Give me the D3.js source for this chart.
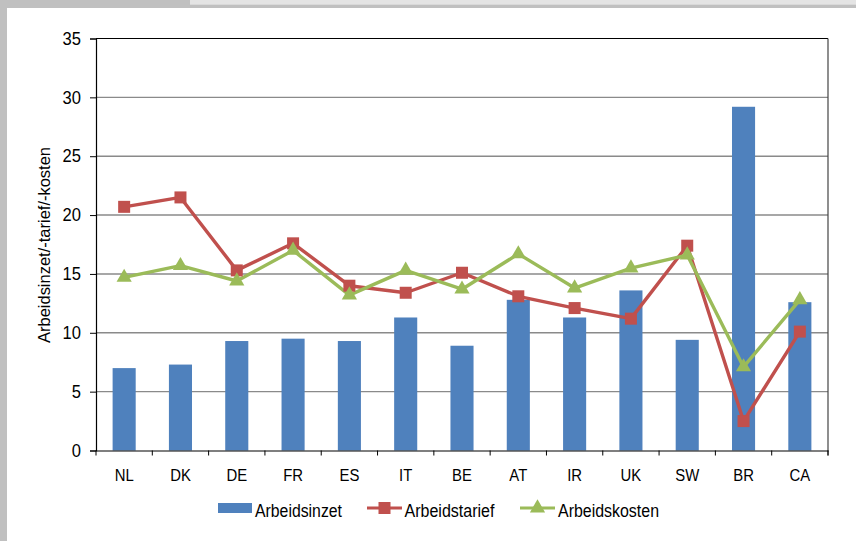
<!DOCTYPE html>
<html>
<head>
<meta charset="utf-8">
<script src="https://cdn.jsdelivr.net/npm/d3@7"></script>
<style>
  html, body { margin: 0; padding: 0; background: #fff; }
  svg { display: block; }
  text { font-family: "Liberation Sans", Arial, sans-serif; fill: #000; }
</style>
</head>
<body>
<svg id="chart" width="856" height="541"></svg>
<script>
// Countries along the x axis
const categories = ["NL", "DK", "DE", "FR", "ES", "IT", "BE", "AT", "IR", "UK", "SW", "BR", "CA"];
// Series values per country
const arbeidsinzet  = [7.0, 7.3, 9.3, 9.5, 9.3, 11.3, 8.9, 12.8, 11.3, 13.6, 9.4, 29.2, 12.6];
const arbeidstarief = [20.7, 21.5, 15.3, 17.6, 14.0, 13.4, 15.1, 13.1, 12.1, 11.2, 17.4, 2.5, 10.1];
const arbeidskosten = [14.7, 15.7, 14.4, 17.0, 13.2, 15.3, 13.7, 16.7, 13.8, 15.5, 16.6, 7.1, 12.8];
const yTicks = [0, 5, 10, 15, 20, 25, 30, 35];
const seriesNames = ["Arbeidsinzet", "Arbeidstarief", "Arbeidskosten"];
const yTitle = "Arbeidsinzet/-tarief/-kosten";

const colors = { bar: "#4F81BD", red: "#C0504D", green: "#9BBB59" };

const svg = d3.select("#chart");
const W = 856, H = 541;
const plot = { left: 96, right: 828, top: 38.5, bottom: 450.5 };

// Squeeze a text element horizontally to mimic a narrow typeface
function narrow(sel, factor) {
  sel.each(function () {
    const len = this.getComputedTextLength();
    d3.select(this).attr("textLength", len * factor).attr("lengthAdjust", "spacingAndGlyphs");
  });
}
function fitTo(sel, width) {
  sel.attr("textLength", width).attr("lengthAdjust", "spacingAndGlyphs");
}

// Frame: grey strip on top and left, lighter band at the top right
svg.append("rect").attr("x", 0).attr("y", 0).attr("width", W).attr("height", 8).attr("fill", "#c0c0c0");
svg.append("rect").attr("x", 0).attr("y", 0).attr("width", 7).attr("height", H).attr("fill", "#c0c0c0");
svg.append("rect").attr("x", 190).attr("y", 0).attr("width", W - 190).attr("height", 4.7).attr("fill", "#e4e4e4");

const x = d3.scaleBand().domain(categories).range([plot.left, plot.right]).paddingInner(0).paddingOuter(0);
const y = d3.scaleLinear().domain([0, 35]).range([plot.bottom, plot.top]);

// Horizontal gridlines
svg.append("g").selectAll("line").data(yTicks.filter(t => t > 0)).join("line")
  .attr("x1", plot.left).attr("x2", plot.right)
  .attr("y1", d => y(d)).attr("y2", d => y(d))
  .attr("stroke", d => d === 35 ? "#000" : "#8a8a8a")
  .attr("stroke-width", d => d === 35 ? 1.2 : 1.4);

// Right border of the plot area
svg.append("line").attr("x1", plot.right).attr("x2", plot.right)
  .attr("y1", plot.top).attr("y2", plot.bottom + 5)
  .attr("stroke", "#444").attr("stroke-width", 1.2);

// Bars
const barW = x.bandwidth() * 0.41;
svg.append("g").selectAll("rect").data(categories).join("rect")
  .attr("x", d => x(d) + (x.bandwidth() - barW) / 2)
  .attr("y", (d, i) => y(arbeidsinzet[i]))
  .attr("width", barW)
  .attr("height", (d, i) => y(0) - y(arbeidsinzet[i]))
  .attr("fill", colors.bar);

// Y axis
const yAxis = d3.axisLeft(y).tickValues(yTicks).tickSize(6).tickPadding(9).tickFormat(d3.format("d"));
const gy = svg.append("g").attr("transform", `translate(${plot.left},0)`).call(yAxis);
gy.select(".domain").attr("stroke", "#000").attr("stroke-width", 1.2);
gy.selectAll(".tick line").attr("stroke", "#000");
gy.selectAll(".tick text").attr("font-size", 18).attr("fill", "#000")
  .style("font-family", "'Liberation Sans', Arial, sans-serif");
narrow(gy.selectAll(".tick text"), 0.92);

// X axis with ticks on category boundaries
const xAxis = d3.axisBottom(x).tickSize(0).tickPadding(18.8);
const gx = svg.append("g").attr("transform", `translate(0,${plot.bottom})`).call(xAxis);
gx.select(".domain").attr("stroke", "#000").attr("stroke-width", 1.2);
gx.selectAll(".tick text").attr("font-size", 16).attr("fill", "#000")
  .style("font-family", "'Liberation Sans', Arial, sans-serif");
narrow(gx.selectAll(".tick text"), 0.93);
const bounds = categories.map(c => x(c)).concat([plot.right]);
svg.append("g").selectAll("line").data(bounds).join("line")
  .attr("x1", d => d).attr("x2", d => d)
  .attr("y1", plot.bottom).attr("y2", plot.bottom + 5)
  .attr("stroke", "#000").attr("stroke-width", 1);

// Y axis title
const yt = svg.append("text")
  .attr("transform", `translate(50,245) rotate(-90)`)
  .attr("text-anchor", "middle")
  .attr("font-size", 16.3)
  .text(yTitle);
fitTo(yt, 196);

const cx = d => x(d) + x.bandwidth() / 2;
const line = vals => d3.line().x(d => cx(d)).y((d, i) => y(vals[i]))(categories);

// Line series
svg.append("path").attr("d", line(arbeidstarief)).attr("fill", "none")
  .attr("stroke", colors.red).attr("stroke-width", 3.4).attr("stroke-linejoin", "round");
svg.append("path").attr("d", line(arbeidskosten)).attr("fill", "none")
  .attr("stroke", colors.green).attr("stroke-width", 3.4).attr("stroke-linejoin", "round");

// Markers
const sq = 12;
svg.append("g").selectAll("rect").data(categories).join("rect")
  .attr("x", d => cx(d) - sq / 2)
  .attr("y", (d, i) => y(arbeidstarief[i]) - sq / 2)
  .attr("width", sq).attr("height", sq)
  .attr("fill", colors.red);

const tri = d3.symbol().type(d3.symbolTriangle).size(100);
svg.append("g").selectAll("path").data(categories).join("path")
  .attr("d", tri)
  .attr("transform", (d, i) => `translate(${cx(d)},${y(arbeidskosten[i])})`)
  .attr("fill", colors.green);

// Legend
const lg = svg.append("g");
const ly = 508;
lg.append("rect").attr("x", 218).attr("y", ly - 5).attr("width", 34).attr("height", 10).attr("fill", colors.bar);
const t1 = lg.append("text").attr("x", 255).attr("y", 516.7).attr("font-size", 17.5).text(seriesNames[0]);

lg.append("line").attr("x1", 367).attr("x2", 402).attr("y1", ly).attr("y2", ly)
  .attr("stroke", colors.red).attr("stroke-width", 3.2);
lg.append("rect").attr("x", 384.5 - 6).attr("y", ly - 6).attr("width", 12).attr("height", 12).attr("fill", colors.red);
const t2 = lg.append("text").attr("x", 404.5).attr("y", 516.7).attr("font-size", 17.5).text(seriesNames[1]);

lg.append("line").attr("x1", 520).attr("x2", 555).attr("y1", ly).attr("y2", ly)
  .attr("stroke", colors.green).attr("stroke-width", 3.2);
lg.append("path").attr("d", tri).attr("transform", `translate(537.5,${ly})`).attr("fill", colors.green);
const t3 = lg.append("text").attr("x", 558).attr("y", 516.7).attr("font-size", 17.5).text(seriesNames[2]);
fitTo(t1, 87); fitTo(t2, 90); fitTo(t3, 101);
</script>
</body>
</html>
